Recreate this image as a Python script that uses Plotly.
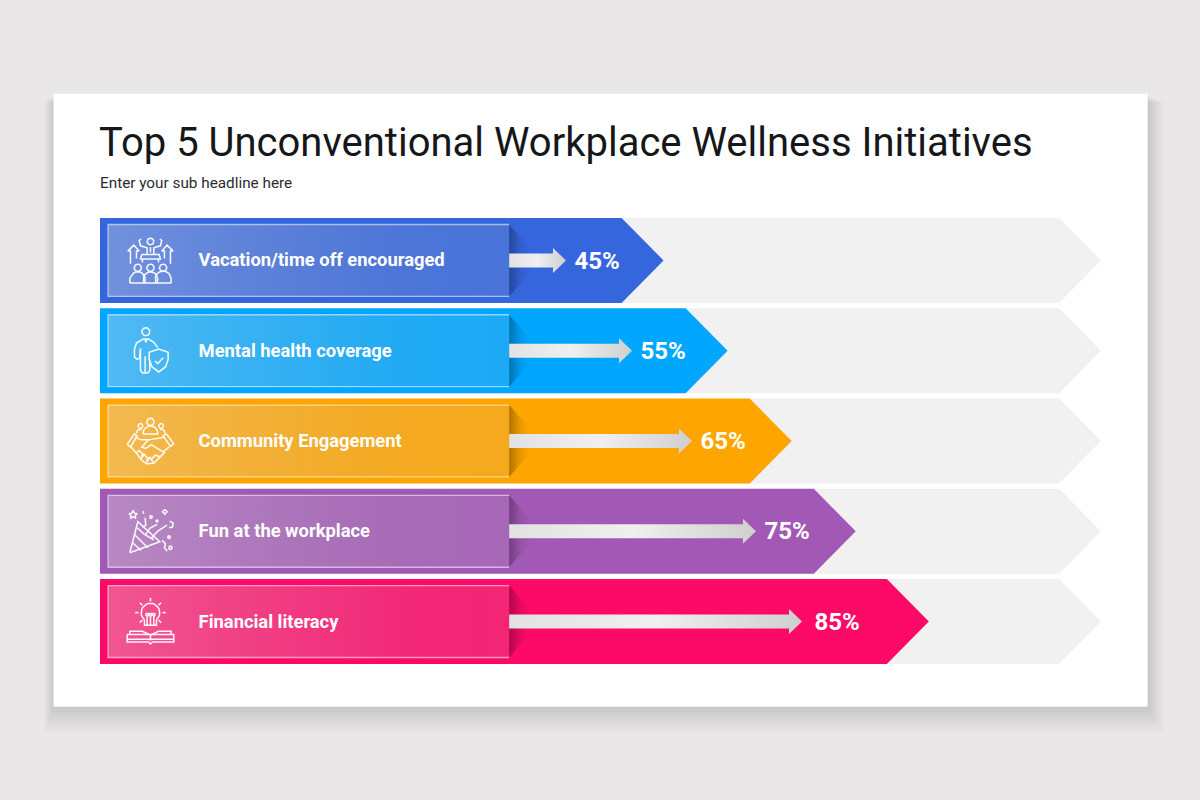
import math
import plotly.graph_objects as go

# ---------- data ----------
categories = ["Vacation/time off encouraged", "Mental health coverage",
              "Community Engagement", "Fun at the workplace", "Financial literacy"]
shown_percent = [45, 55, 65, 75, 85]
# length of each coloured chevron and inner arrow, as % of the grey track
bar_reach = [56.3, 62.7, 69.1, 75.5, 82.8]
arrow_reach = [46.55, 53.15, 59.14, 65.53, 70.13]
bar_colors = ["#3566dd", "#00a6ff", "#ffa500", "#a259b5", "#fd0a68"]
title_text = "Top 5 Unconventional Workplace Wellness Initiatives"
subtitle_text = "Enter your sub headline here"

# ---------- layout geometry (pixels of the 1200x800 page) ----------
W, H = 1200, 800
PL, PR = 99.5, 1101.3
ROW0, PITCH = 260.0, 90.4
BAR_H = 85.0
Y_PAD = 0.47
PT = ROW0 - Y_PAD * PITCH
PB = ROW0 + (4 + Y_PAD) * PITCH
HEAD = 42.0
track_end = 100.0


def dx(px):            # pixels -> x units
    return (px - PL) / (PR - PL) * 100.0


def dy(py):            # pixels -> y units
    return (py - ROW0) / PITCH


def px_of(x):
    return PL + x / 100.0 * (PR - PL)


def paper_x(px):
    return (px - PL) / (PR - PL)


def paper_y(py):
    return (PB - py) / (PB - PT)


fig = go.Figure()


def poly(points, **kw):
    xs = [dx(p[0]) for p in points] + [dx(points[0][0])]
    ys = [dy(p[1]) for p in points] + [dy(points[0][1])]
    fig.add_trace(go.Scatter(x=xs, y=ys, mode="lines", fill="toself",
                             hoverinfo="skip", showlegend=False, **kw))


def chevron(x_val, row, color):
    half = BAR_H / 2
    tip = px_of(x_val)
    cy = ROW0 + row * PITCH
    poly([(PL, cy - half), (tip - HEAD, cy - half), (tip, cy), (tip - HEAD, cy + half), (PL, cy + half)],
         fillcolor=color, line=dict(width=0, color=color))


def circ(cx, cy, r, n=18):
    return [(cx + r * math.cos(2 * math.pi * i / n), cy + r * math.sin(2 * math.pi * i / n)) for i in range(n + 1)]


def arc(cx, cy, r, a0, a1, n=10):
    return [(cx + r * math.cos(math.radians(a0 + (a1 - a0) * i / n)),
             cy + r * math.sin(math.radians(a0 + (a1 - a0) * i / n))) for i in range(n + 1)]


# icon outlines sketched in a 180x180 box, drawn at 1/3 size
icon_1 = [
    circ(90, 33, 10),
    [(62, 26), (56, 30), (60, 46), (80, 52), (80, 72)],
    [(118, 26), (124, 30), (120, 46), (100, 52), (100, 72)],
    [(90, 50), (90, 66)],
    [(64, 72), (116, 72), (120, 86), (60, 86), (64, 72)],
    [(66, 86), (66, 96)], [(114, 86), (114, 96)],
    [(30, 100), (30, 62), (22, 62), (40, 44), (56, 62), (48, 62), (48, 84)],
    [(132, 84), (132, 62), (124, 62), (140, 44), (158, 62), (150, 62), (150, 100)],
    circ(52, 112, 11), circ(90, 112, 11), circ(128, 112, 11),
    [(28, 158), (28, 144)] + arc(52, 146, 22, 180, 360)[1:-1] + [(74, 146), (74, 158)],
    [(70, 158), (68, 146)] + arc(90, 146, 22, 180, 360)[1:-1] + [(112, 146), (110, 158)],
    [(106, 158), (106, 146)] + arc(128, 146, 24, 180, 360)[1:-1] + [(152, 144), (152, 158)],
    [(28, 158), (152, 158)],
]
icon_2 = [
    circ(76, 34, 12),
    [(50, 118), (42, 110), (42, 85), (48, 68), (68, 56), (84, 56), (100, 66), (112, 82)],
    [(50, 118), (58, 112), (60, 85)],
    [(60, 85), (60, 150), (66, 158), (82, 158), (88, 150), (88, 118)],
    [(74, 108), (74, 158)],
    [(74, 56), (76, 66), (80, 56)],
    [(86, 96), (115, 86), (143, 96), (143, 118), (135, 140), (115, 155), (95, 140), (86, 118), (86, 96)],
    [(104, 122), (112, 130), (128, 112)],
]
icon_3 = [
    circ(90, 32, 11), circ(60, 44, 7), circ(122, 44, 7),
    [(68, 68)] + arc(90, 66, 22, 180, 360)[1:-1] + [(112, 68), (68, 68)],
    [(48, 66)] + arc(60, 66, 12, 180, 290)[1:],
    [(134, 66)] + arc(122, 66, 12, 0, -110)[1:],
    [(20, 100), (42, 68), (50, 74), (30, 108), (20, 100)],
    [(138, 68), (160, 98), (150, 106), (128, 74), (138, 68)],
    [(44, 78), (62, 86), (84, 86), (112, 80), (132, 78)],
    [(84, 86), (64, 108), (76, 112), (92, 100), (128, 122), (146, 108)],
    [(30, 106), (50, 128), (62, 146), (78, 158), (100, 156), (134, 122)],
    [(48, 124), (56, 118), (70, 132), (62, 142)],
    [(62, 136), (70, 128), (84, 144), (76, 156)],
    [(78, 148), (88, 138), (100, 156)],
    [(92, 146), (104, 132), (118, 136)],
]
icon_4 = [
    [(28, 155), (52, 62), (118, 122), (28, 155)],
    [(42, 100), (82, 140)], [(36, 125), (62, 148)],
    [(50, 80), (72, 100), (100, 116)],
    [(66, 78), (76, 72), (74, 50)],
    [(76, 100), (88, 82), (110, 70)],
    [(92, 112), (112, 90), (140, 72)],
    [(38, 28), (42, 36), (50, 38), (44, 44), (46, 52), (38, 47), (30, 52), (32, 44), (26, 38), (34, 36), (38, 28)],
    circ(92, 48, 4), circ(110, 60, 3), circ(146, 108, 4), circ(150, 140, 5),
    [(133, 25), (140, 32), (133, 39), (126, 32), (133, 25)],
    [(68, 30), (69, 38)], [(148, 60), (158, 66), (156, 78), (146, 80)],
    [(125, 118), (135, 128), (132, 140), (140, 150)],
]
icon_5 = [
    arc(90, 62, 28, 130, 410, 20),
    [(72, 84), (72, 100), (108, 100), (108, 84)],
    [(80, 100), (80, 72)], [(90, 100), (90, 72)], [(100, 100), (100, 72)],
    circ(80, 68, 4), circ(90, 68, 4), circ(100, 68, 4),
    [(90, 18), (90, 28)], [(58, 32), (66, 40)], [(122, 32), (114, 40)],
    [(44, 62), (54, 62)], [(126, 62), (136, 62)], [(58, 92), (66, 84)], [(122, 92), (114, 84)],
    [(20, 128), (20, 150), (84, 150), (90, 156), (96, 150), (160, 150), (160, 128), (20, 128)],
    [(28, 128), (28, 118), (66, 118), (90, 130), (114, 118), (152, 118), (152, 128)],
    [(90, 130), (90, 146)], [(20, 142), (160, 142)],
]
icons = [(icon_1, 120, 230), (icon_2, 120, 320), (icon_3, 120, 411), (icon_4, 120, 501), (icon_5, 120, 592)]

# ---------- tracks + coloured chevrons ----------
for r in range(len(categories)):
    chevron(track_end, r, "#f1f1f1")
for r, (v, c) in enumerate(zip(bar_reach, bar_colors)):
    chevron(v, r, c)

# ---------- panels, shadows, arrows ----------
PANEL_L, PANEL_R = 107.5, 509.0
PANEL_HALF = 36.0
for r, a in enumerate(arrow_reach):
    cy = ROW0 + r * PITCH
    # shadow cast by panel
    poly([(PANEL_R, cy - PANEL_HALF), (530, cy - 12), (530, cy + 12), (PANEL_R, cy + PANEL_HALF)],
         line=dict(width=0, color="rgba(0,0,0,0)"),
         fillgradient=dict(type="horizontal",
                           colorscale=[[0, "rgba(0,0,0,0.30)"], [0.5, "rgba(0,0,0,0.09)"], [1, "rgba(0,0,0,0)"]]))
    # translucent panel
    poly([(PANEL_L, cy - PANEL_HALF), (PANEL_R, cy - PANEL_HALF), (PANEL_R, cy + PANEL_HALF), (PANEL_L, cy + PANEL_HALF)],
         line=dict(width=0, color="rgba(0,0,0,0)"),
         fillgradient=dict(type="horizontal",
                           colorscale=[[0, "rgba(222,222,222,0.36)"], [0.75, "rgba(190,190,190,0.17)"],
                                       [1, "rgba(190,190,190,0.15)"]]))
    # thin light frame on top, left and bottom only
    fig.add_trace(go.Scatter(
        x=[dx(PANEL_R), dx(PANEL_L), dx(PANEL_L), dx(PANEL_R)],
        y=[dy(cy - PANEL_HALF), dy(cy - PANEL_HALF), dy(cy + PANEL_HALF), dy(cy + PANEL_HALF)],
        mode="lines", line=dict(color="rgba(255,255,255,0.55)", width=1.3),
        hoverinfo="skip", showlegend=False))
    # grey arrow
    tip = px_of(a)
    poly([(PANEL_R, cy - 7), (tip - 13, cy - 7), (tip - 13, cy - 12.5), (tip, cy),
          (tip - 13, cy + 12.5), (tip - 13, cy + 7), (PANEL_R, cy + 7)],
         line=dict(width=0, color="rgba(0,0,0,0)"),
         fillgradient=dict(type="horizontal",
                           colorscale=[[0, "#e2e2e2"], [0.5, "#efefef"], [1, "#cfcfcf"]]))

# ---------- icons ----------
for shape_list, ox, oy in icons:
    xs, ys = [], []
    for line_pts in shape_list:
        for p in line_pts:
            xs.append(dx(ox + p[0] / 3))
            ys.append(dy(oy + p[1] / 3))
        xs.append(None)
        ys.append(None)
    fig.add_trace(go.Scatter(x=xs, y=ys, mode="lines", connectgaps=False,
                             line=dict(color="rgba(255,255,255,0.95)", width=1.5),
                             hoverinfo="skip", showlegend=False))

# ---------- text ----------
rows = list(range(len(categories)))
fig.add_trace(go.Scatter(
    x=[dx(198.2)] * len(categories), y=[r + 1.4 / PITCH for r in rows], text=categories,
    mode="text", textposition="middle right",
    textfont=dict(family="Roboto", size=18.35, color="white", weight=700),
    hoverinfo="skip", showlegend=False))
fig.add_trace(go.Scatter(
    x=[dx(px_of(a) + (13 if i == 4 else 9) - 0.5) for i, a in enumerate(arrow_reach)],
    y=[r + 2.1 / PITCH for r in rows],
    text=[f"{v}%" for v in shown_percent], mode="text", textposition="middle right",
    textfont=dict(family="Roboto", size=24, color="white", weight=700),
    hoverinfo="skip", showlegend=False))

# ---------- background card with soft shadow ----------
shapes = []
for i in range(16, 0, -1):
    shapes.append(dict(type="rect", xref="paper", yref="paper", layer="below",
                       x0=paper_x(53 - i * 0.6), x1=paper_x(1148 + i * 1.0),
                       y0=paper_y(707 + i * 1.6), y1=paper_y(95 + i * 0.4),
                       fillcolor="rgba(60,60,60,0.01)", line=dict(width=0)))
shapes.append(dict(type="rect", xref="paper", yref="paper", layer="below",
                   x0=paper_x(53), x1=paper_x(1148), y0=paper_y(707), y1=paper_y(93),
                   fillcolor="#ffffff", line=dict(width=0)))

annotations = [
    dict(text=title_text, xref="paper", yref="paper", x=paper_x(96), y=paper_y(142),
         xanchor="left", yanchor="middle", showarrow=False,
         font=dict(family="Roboto", size=40, color="#15171a")),
    dict(text=subtitle_text, xref="paper", yref="paper", x=paper_x(97), y=paper_y(182),
         xanchor="left", yanchor="middle", showarrow=False,
         font=dict(family="Roboto", size=15.3, color="#2a2c30")),
]

fig.update_layout(
    width=W, height=H,
    margin=dict(l=PL, r=W - PR, t=PT, b=H - PB, pad=0),
    paper_bgcolor="#e9e7e8", plot_bgcolor="rgba(0,0,0,0)",
    showlegend=False, shapes=shapes, annotations=annotations,
    xaxis=dict(range=[0, 100], visible=False, fixedrange=True),
    yaxis=dict(range=[4 + Y_PAD, -Y_PAD], visible=False, fixedrange=True),
)
fig.write_html("out.html", config=dict(displayModeBar=False),
               post_script="document.body.style.margin='0';")
